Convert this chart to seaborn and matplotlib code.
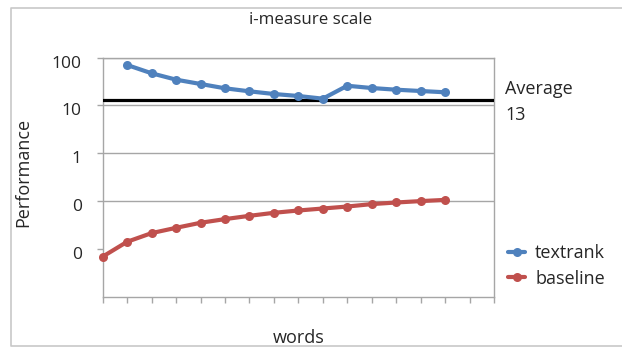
import numpy as np
import pandas as pd
import seaborn as sns
import matplotlib.pyplot as plt
from matplotlib.lines import Line2D
from matplotlib.ticker import NullLocator
from matplotlib.transforms import ScaledTranslation

# ---- data ----
word_pos = [0, 1, 2, 3, 4, 5, 6, 7, 8, 9, 10, 11, 12, 13, 14]
textrank = [np.nan, 70.3, 47.2, 34.7, 28.2, 22.9, 19.8, 17.4, 15.8, 13.9,
            25.9, 23.2, 21.4, 20.1, 18.9]
baseline = [0.0069, 0.0141, 0.0214, 0.0276, 0.0352, 0.0420, 0.0492, 0.0569,
            0.0636, 0.0700, 0.0770, 0.0865, 0.0935, 0.1000, 0.1060]
average = 13
y_ticks = [0.01, 0.1, 1, 10, 100]
y_tick_labels = ["0", "0", "1", "10", "100"]

df = pd.DataFrame({
    "word": word_pos * 2,
    "value": textrank + baseline,
    "series": ["textrank"] * len(word_pos) + ["baseline"] * len(word_pos),
})

sns.set_theme(style="white")
plt.rcParams["font.family"] = ["Open Sans", "DejaVu Sans"]

W, H = 622, 349
fig = plt.figure(figsize=(W / 100, H / 100), dpi=100)
ax = fig.add_axes([102.7 / W, 1 - 296.7 / H, (494 - 102.7) / W, (296.7 - 57.7) / H])

grey = "#a6a6a6"
sns.lineplot(data=df, x="word", y="value", hue="series",
             palette={"textrank": "#4f81bd", "baseline": "#c0504d"},
             marker="o", markersize=6.5, markeredgewidth=0, linewidth=3,
             clip_on=False, zorder=4, ax=ax)

ax.axhline(average, color="black", lw=2.3, zorder=3)

ax.set_yscale("log")
ax.set_ylim(0.001, 100)
ax.set_xlim(0, 16)
ax.set_yticks(y_ticks)
ax.set_yticklabels(y_tick_labels)
ax.yaxis.set_minor_locator(NullLocator())
ax.set_xticks(range(17))
ax.set_xticklabels([])
ax.tick_params(axis="both", direction="out", length=4, width=1, color=grey,
               labelsize=12.5, pad=11, left=True, bottom=True)
# Excel draws the value labels a little below the gridlines
for lab in ax.get_yticklabels():
    lab.set_transform(lab.get_transform() + ScaledTranslation(0, -0.04, fig.dpi_scale_trans))

ax.grid(axis="y", color=grey, lw=1)
ax.get_ygridlines()[0].set_visible(False)
for sp in ax.spines.values():
    sp.set_color(grey)
    sp.set_linewidth(1)

ax.set_xlabel("words", fontsize=13)
ax.xaxis.label.set_va("center")
ax.xaxis.set_label_coords(0.5, -0.173)
ax.set_ylabel("Performance", fontsize=13)
ax.yaxis.label.set_va("center")
ax.yaxis.set_label_coords(-0.204, 0.52)

fig.text(311 / W, 1 - 20 / H, "i-measure scale", ha="center", va="center", fontsize=12.2)
fig.text(505 / W, 1 - 89 / H, "Average", ha="left", va="center", fontsize=13)
fig.text(505 / W, 1 - 115 / H, "13", ha="left", va="center", fontsize=13)

leg = ax.legend(loc="center left", bbox_to_anchor=(1.036, 0.128), frameon=False,
                fontsize=13, handlelength=0.95, handletextpad=0.55,
                labelspacing=0.4, borderpad=0, borderaxespad=0)

# chart area border
border = Line2D([1.0, 10.5 / W, 10.5 / W, 1.0],
                [1 - 7.5 / H, 1 - 7.5 / H, 1 - 346 / H, 1 - 346 / H],
                transform=fig.transFigure, color="#c8c8c8", lw=1.2)
fig.add_artist(border)

fig.savefig("out.png", dpi=100)
